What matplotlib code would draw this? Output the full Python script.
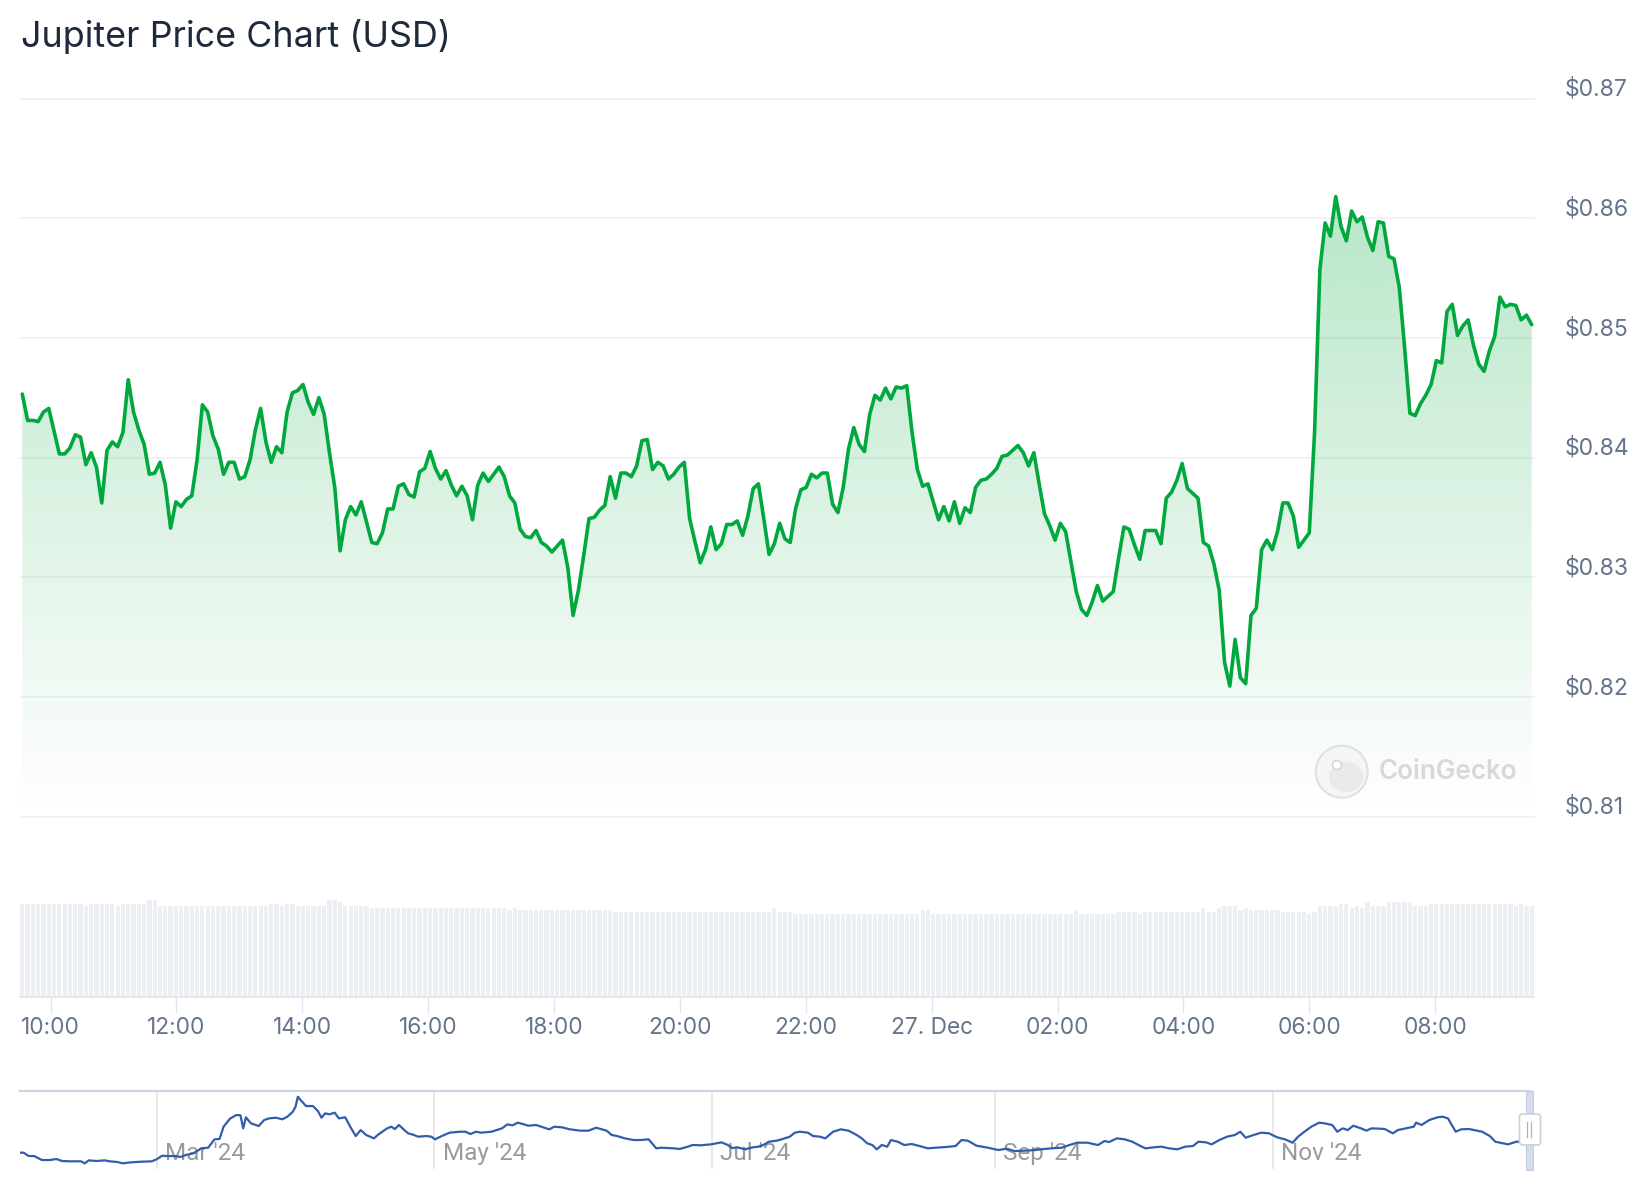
import numpy as np
import pandas as pd
import matplotlib
matplotlib.use('Agg')
import matplotlib.pyplot as plt
import matplotlib.dates as mdates
from matplotlib.patches import Circle, Ellipse, FancyBboxPatch, Rectangle

plt.rcParams['font.family'] = ['Inter', 'DejaVu Sans']

W, H = 1644, 1200

# 5-minute prices, 26 Dec 09:33 -> 27 Dec 09:32 (USD)
price = [
    0.8453, 0.8431, 0.8431, 0.8430, 0.8438, 0.8441, 0.8422, 0.8403, 0.8403, 0.8408,
    0.8419, 0.8417, 0.8394, 0.8404, 0.8392, 0.8362, 0.8406, 0.8413, 0.8409, 0.8421,
    0.8465, 0.8438, 0.8423, 0.8411, 0.8386, 0.8387, 0.8396, 0.8377, 0.8341, 0.8363,
    0.8359, 0.8365, 0.8368, 0.8398, 0.8444, 0.8438, 0.8418, 0.8407, 0.8386, 0.8396,
    0.8396, 0.8382, 0.8384, 0.8398, 0.8423, 0.8441, 0.8413, 0.8396, 0.8409, 0.8404,
    0.8438, 0.8454, 0.8456, 0.8461, 0.8446, 0.8436, 0.8450, 0.8436, 0.8404, 0.8375,
    0.8322, 0.8348, 0.8359, 0.8352, 0.8363, 0.8346, 0.8329, 0.8328, 0.8337, 0.8357,
    0.8357, 0.8376, 0.8378, 0.8369, 0.8367, 0.8388, 0.8391, 0.8405, 0.8391, 0.8382,
    0.8389, 0.8377, 0.8368, 0.8376, 0.8368, 0.8348, 0.8377, 0.8387, 0.8380, 0.8386,
    0.8392, 0.8384, 0.8368, 0.8362, 0.8340, 0.8334, 0.8333, 0.8339, 0.8329, 0.8326,
    0.8321, 0.8326, 0.8331, 0.8308, 0.8268, 0.8289, 0.8318, 0.8349, 0.8350, 0.8356,
    0.8360, 0.8384, 0.8366, 0.8387, 0.8387, 0.8384, 0.8393, 0.8414, 0.8415, 0.8390,
    0.8396, 0.8393, 0.8382, 0.8386, 0.8392, 0.8396, 0.8349, 0.8330, 0.8312, 0.8323,
    0.8342, 0.8323, 0.8328, 0.8344, 0.8344, 0.8347, 0.8335, 0.8351, 0.8374, 0.8378,
    0.8349, 0.8319, 0.8328, 0.8345, 0.8332, 0.8329, 0.8357, 0.8373, 0.8375, 0.8386,
    0.8383, 0.8387, 0.8387, 0.8361, 0.8354, 0.8375, 0.8407, 0.8425, 0.8411, 0.8405,
    0.8436, 0.8452, 0.8448, 0.8458, 0.8449, 0.8459, 0.8458, 0.8460, 0.8421, 0.8390,
    0.8376, 0.8378, 0.8363, 0.8348, 0.8359, 0.8347, 0.8363, 0.8345, 0.8358, 0.8354,
    0.8375, 0.8381, 0.8382, 0.8386, 0.8391, 0.8401, 0.8402, 0.8406, 0.8410, 0.8404,
    0.8393, 0.8404, 0.8378, 0.8353, 0.8343, 0.8331, 0.8345, 0.8338, 0.8313, 0.8288,
    0.8273, 0.8268, 0.8279, 0.8293, 0.8280, 0.8284, 0.8288, 0.8316, 0.8342, 0.8340,
    0.8327, 0.8315, 0.8339, 0.8339, 0.8339, 0.8328, 0.8366, 0.8371, 0.8381, 0.8395,
    0.8374, 0.8370, 0.8366, 0.8329, 0.8326, 0.8311, 0.8289, 0.8229, 0.8209, 0.8248,
    0.8216, 0.8211, 0.8268, 0.8274, 0.8323, 0.8331, 0.8323, 0.8338, 0.8362, 0.8362,
    0.8351, 0.8325, 0.8331, 0.8337, 0.8421, 0.8557, 0.8596, 0.8585, 0.8618, 0.8593,
    0.8581, 0.8606, 0.8597, 0.8601, 0.8584, 0.8573, 0.8597, 0.8596, 0.8568, 0.8566,
    0.8542, 0.8492, 0.8437, 0.8435, 0.8445, 0.8452, 0.8461, 0.8481, 0.8479, 0.8522,
    0.8528, 0.8502, 0.8510, 0.8515, 0.8494, 0.8478, 0.8472, 0.8489, 0.8501, 0.8534,
    0.8526, 0.8528, 0.8527, 0.8515, 0.8519, 0.8511,
]

# 24h volume under each price point (million USD)
volume_musd = [
    93, 93, 93, 93, 93, 93, 93, 93, 93, 93, 93, 93, 91, 93, 93, 93, 93, 93, 91, 93,
    93, 93, 93, 93, 97, 97, 91, 91, 91, 91, 91, 91, 91, 91, 91, 91, 91, 91, 91, 91,
    91, 91, 91, 91, 91, 91, 91, 93, 93, 91, 93, 93, 91, 91, 91, 91, 91, 91, 97, 97,
    95, 91, 91, 91, 91, 91, 89, 89, 89, 89, 89, 89, 89, 89, 89, 89, 89, 89, 89, 89,
    89, 89, 89, 89, 89, 89, 89, 89, 89, 89, 89, 89, 87, 89, 87, 87, 87, 87, 87, 87,
    87, 87, 87, 87, 87, 87, 87, 87, 87, 87, 87, 87, 85, 85, 85, 85, 85, 85, 85, 85,
    85, 85, 85, 85, 85, 85, 85, 85, 85, 85, 85, 85, 85, 85, 85, 85, 85, 85, 85, 85,
    85, 85, 89, 85, 85, 85, 83, 83, 83, 83, 83, 83, 83, 83, 83, 83, 83, 83, 83, 83,
    83, 83, 83, 83, 83, 83, 83, 83, 83, 83, 87, 87, 83, 83, 83, 83, 83, 83, 83, 83,
    83, 83, 83, 83, 83, 83, 83, 83, 83, 83, 83, 83, 83, 83, 83, 83, 83, 83, 83, 87,
    83, 83, 83, 83, 83, 83, 83, 85, 85, 85, 85, 83, 85, 85, 85, 85, 85, 85, 85, 85,
    85, 85, 85, 89, 85, 85, 89, 91, 91, 91, 87, 89, 87, 87, 87, 87, 87, 87, 85, 85,
    85, 85, 85, 83, 85, 91, 91, 91, 91, 93, 93, 89, 91, 89, 95, 91, 91, 91, 95, 95,
    95, 95, 95, 91, 91, 91, 93, 93, 93, 93, 93, 93, 93, 93, 93, 93, 93, 93, 93, 93,
    93, 93, 91, 93, 91, 91,
]

start_time = '2024-12-26 09:33'
end_time = '2024-12-27 09:32'

y_ticks = [0.81, 0.82, 0.83, 0.84, 0.85, 0.86, 0.87]
y_labels = ['$0.81', '$0.82', '$0.83', '$0.84', '$0.85', '$0.86', '$0.87']

x_tick_times = ['2024-12-26 10:00', '2024-12-26 12:00', '2024-12-26 14:00',
                '2024-12-26 16:00', '2024-12-26 18:00', '2024-12-26 20:00',
                '2024-12-26 22:00', '2024-12-27 00:00', '2024-12-27 02:00',
                '2024-12-27 04:00', '2024-12-27 06:00', '2024-12-27 08:00']
x_tick_labels = ['10:00', '12:00', '14:00', '16:00', '18:00', '20:00',
                 '22:00', '27. Dec', '02:00', '04:00', '06:00', '08:00']

# navigator: days since 31 Jan 2024 and price
nav_start = '2024-01-31'
nav_end_day = 331.4
nav_day = [
    0.0, 0.8, 1.9, 3.1, 4.8, 6.5, 8.0, 9.2, 11.1, 13.4,
    14.2, 15.1, 16.8, 18.6, 19.7, 21.4, 22.6, 24.3, 26.6, 28.9,
    30.0, 31.2, 32.3, 34.1, 35.2, 36.4, 38.1, 39.8, 41.3, 42.7,
    43.8, 44.7, 46.1, 47.5, 48.4, 49.0, 49.6, 50.7, 52.4, 53.6,
    54.7, 56.2, 57.6, 58.7, 59.9, 60.5, 61.0, 61.6, 62.8, 64.3,
    65.4, 66.2, 67.0, 67.9, 69.1, 70.0, 71.4, 72.5, 73.7, 74.8,
    76.0, 77.7, 78.8, 80.6, 81.5, 82.3, 83.2, 84.2, 85.2, 86.3,
    87.4, 89.2, 90.3, 91.1, 92.6, 94.3, 96.6, 97.8, 98.9, 100.1,
    101.2, 103.5, 105.8, 107.0, 108.1, 109.3, 110.4, 111.6, 113.3, 114.4,
    116.2, 117.3, 119.0, 120.7, 123.0, 124.8, 126.5, 128.8, 129.9, 131.1,
    132.8, 134.7, 136.2, 138.0, 139.7, 140.8, 143.7, 144.8, 146.6, 147.7,
    149.4, 151.7, 154.0, 155.4, 156.3, 157.5, 159.2, 160.9, 162.1, 163.2,
    164.4, 166.1, 167.2, 169.0, 170.1, 171.2, 173.0, 174.1, 175.6, 176.8,
    178.5, 180.2, 181.9, 183.7, 184.8, 186.0, 187.1, 188.1, 189.2, 190.4,
    191.2, 192.7, 194.1, 195.8, 197.5, 199.3, 201.0, 203.3, 205.4, 206.7,
    208.1, 210.0, 212.5, 214.8, 216.6, 218.3, 220.6, 222.9, 224.1, 226.4,
    228.7, 230.4, 232.1, 234.4, 235.6, 236.7, 238.1, 239.1, 240.8, 242.5,
    244.2, 246.0, 247.1, 248.9, 250.6, 252.3, 254.1, 255.8, 257.5, 258.7,
    260.4, 261.6, 263.3, 265.0, 266.7, 267.9, 269.1, 270.8, 272.5, 274.2,
    276.0, 277.7, 279.4, 280.6, 281.7, 283.5, 285.2, 286.4, 288.1, 289.2,
    290.4, 291.5, 292.7, 294.4, 295.6, 296.7, 298.5, 299.6, 301.4, 302.5,
    304.2, 306.0, 306.5, 307.7, 309.4, 311.2, 312.3, 313.5, 315.2, 316.4,
    318.1, 319.2, 321.0, 322.7, 323.9, 325.6, 326.7, 328.5, 331.4,
]
nav_price = [
    0.713, 0.713, 0.671, 0.671, 0.621, 0.621, 0.634, 0.609, 0.605, 0.605,
    0.580, 0.617, 0.609, 0.617, 0.605, 0.596, 0.580, 0.592, 0.600, 0.605,
    0.630, 0.675, 0.671, 0.671, 0.659, 0.684, 0.705, 0.767, 0.775, 0.880,
    0.884, 1.038, 1.138, 1.184, 1.180, 1.017, 1.155, 1.080, 1.046, 1.121,
    1.142, 1.150, 1.130, 1.163, 1.225, 1.288, 1.413, 1.371, 1.296, 1.296,
    1.234, 1.150, 1.205, 1.192, 1.213, 1.142, 1.155, 1.038, 0.921, 0.996,
    0.934, 0.892, 0.946, 1.017, 1.038, 1.009, 1.059, 1.005, 0.955, 0.938,
    0.913, 0.921, 0.913, 0.880, 0.921, 0.963, 0.975, 0.975, 0.946, 0.975,
    0.963, 0.975, 1.017, 1.067, 1.055, 1.088, 1.071, 1.050, 1.059, 1.038,
    1.005, 1.038, 1.030, 1.005, 0.988, 0.988, 1.025, 0.988, 0.934, 0.921,
    0.892, 0.871, 0.871, 0.880, 0.767, 0.775, 0.767, 0.759, 0.788, 0.809,
    0.805, 0.817, 0.842, 0.809, 0.771, 0.780, 0.755, 0.780, 0.788, 0.809,
    0.850, 0.863, 0.880, 0.913, 0.963, 0.975, 0.963, 0.921, 0.913, 0.892,
    0.975, 1.005, 0.988, 0.934, 0.892, 0.830, 0.809, 0.755, 0.809, 0.788,
    0.871, 0.850, 0.809, 0.821, 0.796, 0.767, 0.775, 0.784, 0.796, 0.871,
    0.863, 0.800, 0.775, 0.746, 0.763, 0.734, 0.738, 0.746, 0.755, 0.767,
    0.775, 0.809, 0.838, 0.838, 0.821, 0.809, 0.859, 0.846, 0.892, 0.880,
    0.850, 0.796, 0.767, 0.780, 0.788, 0.767, 0.755, 0.788, 0.796, 0.850,
    0.842, 0.817, 0.871, 0.913, 0.934, 0.975, 0.900, 0.934, 0.963, 0.955,
    0.905, 0.880, 0.838, 0.913, 0.963, 1.038, 1.088, 1.080, 1.059, 0.975,
    1.017, 0.996, 1.050, 1.017, 0.988, 1.017, 1.013, 1.009, 0.955, 0.996,
    1.017, 1.038, 1.088, 1.059, 1.121, 1.155, 1.163, 1.142, 0.975, 1.005,
    1.009, 0.996, 0.975, 0.921, 0.850, 0.830, 0.817, 0.850, 0.850,
]
nav_months = ['2024-03-01', '2024-05-01', '2024-07-01', '2024-09-01', '2024-11-01']
nav_month_labels = ["Mar '24", "May '24", "Jul '24", "Sep '24", "Nov '24"]

GREEN = '#00a83e'
LABEL = '#64748b'
GRID = '#edf0f4'


def px_axes(fig, x0, y0, x1, y1):
    """Axes placed by pixel box (top-left origin)."""
    return fig.add_axes([x0 / W, 1 - y1 / H, (x1 - x0) / W, (y1 - y0) / H])


def to_num(values):
    return mdates.date2num(pd.to_datetime(values).to_pydatetime())


fig = plt.figure(figsize=(W / 100, H / 100), dpi=100)
fig.patch.set_facecolor('white')

times = pd.date_range(start_time, end_time, periods=len(price))
xt = mdates.date2num(times.to_pydatetime())
step = xt[1] - xt[0]
pad = 2.3 / 62.96 / 24
xlim = (xt[0] - pad, xt[-1] + pad)

# --- price area ---
ax = px_axes(fig, 20, 98.5, 1534, 816.5)
for s in ax.spines.values():
    s.set_visible(False)
ax.set_xticks([])
ax.set_yticks([])
for v in y_ticks:
    ax.axhline(v, color=GRID, lw=1.2, zorder=0, clip_on=False)

fill = ax.fill_between(xt, price, y_ticks[0], facecolor='none', edgecolor='none')
grad = np.zeros((256, 1, 4))
grad[..., 1] = 168 / 255
grad[..., 2] = 62 / 255
grad[..., 3] = np.linspace(0.0, 0.28, 256)[:, None]
im = ax.imshow(grad, extent=[xt[0], xt[-1], y_ticks[0], max(price)],
               origin='lower', aspect='auto', zorder=1, interpolation='bilinear')
im.set_clip_path(fill.get_paths()[0], transform=ax.transData)

ax.plot(xt, price, color=GREEN, lw=2.6, zorder=3,
        solid_joinstyle='round', solid_capstyle='round')
ax.set_xlim(*xlim)
ax.set_ylim(y_ticks[0], y_ticks[-1])

for v, lbl in zip(y_ticks, y_labels):
    ax.annotate(lbl, xy=(1, v), xycoords=('axes fraction', 'data'),
                xytext=(22.3, 2.0), textcoords='offset points',
                ha='left', va='baseline', fontsize=16.5, color=LABEL,
                annotation_clip=False)

# --- volume ---
axv = px_axes(fig, 20, 900, 1534, 997)
axv.bar(xt, volume_musd, width=step * 0.8, color='#eceff3', zorder=1)
axv.set_xlim(*xlim)
axv.set_ylim(0, max(volume_musd))
for name, s in axv.spines.items():
    s.set_visible(name == 'bottom')
axv.spines['bottom'].set_color('#e2e6eb')
axv.spines['bottom'].set_linewidth(1.2)
axv.set_yticks([])
axv.set_xticks(to_num(x_tick_times))
axv.set_xticklabels(x_tick_labels)
axv.tick_params(axis='x', length=11.5, width=1.0, color='#e2e6eb',
                labelsize=16.3, labelcolor=LABEL, pad=3.2)
axv.patch.set_alpha(0)

# --- navigator ---
nav_t = mdates.date2num((pd.Timestamp(nav_start)
                         + pd.to_timedelta(nav_day, unit='D')).to_pydatetime())
n0 = mdates.date2num(pd.Timestamp(nav_start).to_pydatetime())
axn = px_axes(fig, 20, 1091, 1529.5, 1169)
axn.plot(nav_t, nav_price, color='#335cad', lw=1.6, zorder=3)
axn.set_xlim(n0, n0 + nav_end_day)
axn.set_ylim(0.509, 1.484)
for name, s in axn.spines.items():
    s.set_visible(name == 'top')
axn.spines['top'].set_color('#cbd5e1')
axn.spines['top'].set_linewidth(1.6)
axn.set_xticks([])
axn.set_yticks([])
axn.patch.set_alpha(0)
for m, lbl in zip(to_num(nav_months), nav_month_labels):
    axn.axvline(m, color='#e3e3e3', lw=1.1, zorder=1)
    axn.annotate(lbl, xy=(m, 0), xycoords=('data', 'axes fraction'),
                 xytext=(5.8, 6.5), textcoords='offset points',
                 ha='left', va='baseline', fontsize=17.5, color='#9a9a9a',
                 family=['Roboto', 'DejaVu Sans'], zorder=2)

# --- overlay: navigator handle, watermark, title ---
axo = fig.add_axes([0, 0, 1, 1])
axo.set_xlim(0, W)
axo.set_ylim(H, 0)
axo.axis('off')
axo.patch.set_alpha(0)

axo.add_patch(Rectangle((1526, 1091), 7, 79, facecolor='#d3dcea',
                        edgecolor='#c3cedf', lw=0.8))
axo.add_patch(FancyBboxPatch((1519.5, 1114), 21, 31,
                             boxstyle='round,pad=0,rounding_size=3',
                             facecolor='white', edgecolor='#c8d0dc', lw=1.2))
for hx in (1527, 1531):
    axo.plot([hx, hx], [1122, 1137], color='#aab3c0', lw=0.9)

axo.add_patch(Circle((1341.7, 771.7), 26, facecolor='#f4f5f4',
                     edgecolor='#e0e0e0', lw=1.5))
axo.add_patch(Ellipse((1346, 777), 34, 30, facecolor='#e9e9e9', edgecolor='none'))
axo.add_patch(Circle((1337, 765), 4.5, facecolor='white', edgecolor='#d2d2d2', lw=1))
axo.text(1379, 779.3, 'CoinGecko', fontsize=18.8, fontweight='semibold',
         color='#d8d8d8', ha='left', va='baseline')

fig.text(21 / W, 1 - 46.7 / H, 'Jupiter Price Chart (USD)', fontsize=25.8,
         color='#1e293b', ha='left', va='baseline')

fig.savefig('out.png', dpi=100, facecolor='white')
